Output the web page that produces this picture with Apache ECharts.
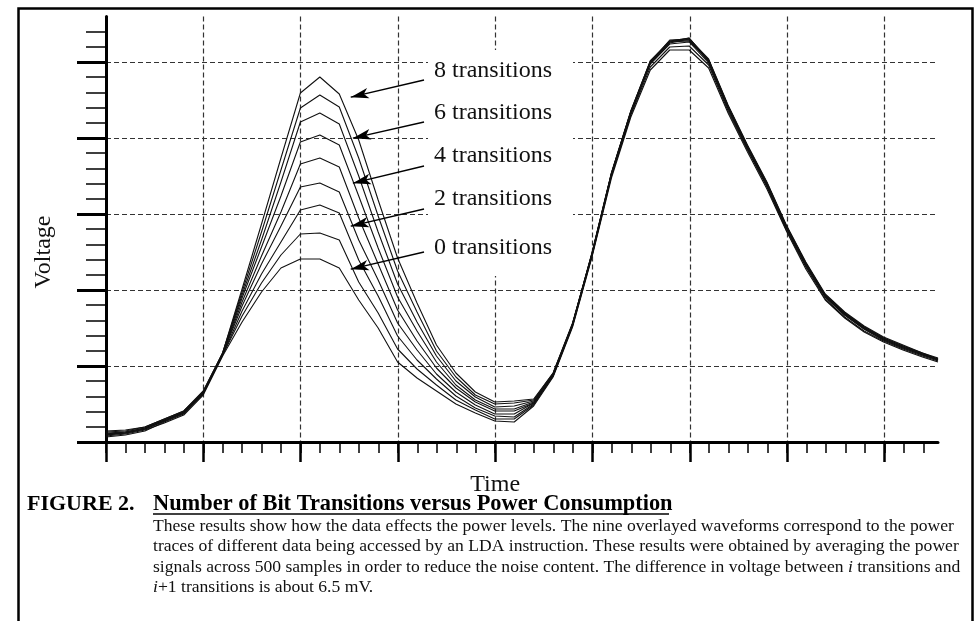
<!DOCTYPE html>
<html>
<head>
<meta charset="utf-8">
<title>Number of Bit Transitions versus Power Consumption</title>
<script src="https://cdn.jsdelivr.net/npm/echarts@6/dist/echarts.min.js"></script>
<style>
  html, body { margin: 0; padding: 0; background: #fff; }
  #bitTransCharts { width: 978px; height: 621px; }
</style>
</head>
<body>
<div id="bitTransCharts"></div>
<script>
  // time samples, in minor divisions of the time axis
  const timeSteps = [0,1,2,3,4,5,6,7,8,9,10,11,12,13,14,15,16,17,18,19,20,21,
    22,23,24,25,26,27,28,29,30,31,32,33,34,35,36,37,38,39,40,41,42,42.8];

  // averaged power traces (voltage, arbitrary units: 76 per major division)
  const trans0 = [6,8,12,19,27,47,86,120,150,174,183,183,174,142,114,80,64,51,38,29,21,20,36,65,
    115,185,264,325,372,392,392,374,329,290,253,211,173,142,124,110,100,92,85,80];
  const trans1 = [7,9,13,21,29,48,87,126,159,187,208,209,202,160,129,93,73,57,42,32,23,23,37,66,
    116,186,266,327,375,395,396,377,331,292,255,212,175,143,125,111,101,93,86,81];
  const trans2 = [5,7,11,20,28,49,87,131,168,200,232,237,229,182,146,106,82,63,46,34,26,25,38,66,
    117,187,267,329,378,398,400,379,333,293,256,214,176,145,127,113,102,94,87,82];
  const trans3 = [8,10,14,22,30,49,88,136,178,216,255,259,250,202,162,119,92,68,50,37,28,28,39,67,
    117,188,268,330,379,400,401,381,335,295,258,215,178,146,128,114,103,95,88,83];
  const trans4 = [9,10,14,22,30,50,88,140,186,230,278,284,275,224,178,132,101,74,54,40,31,31,39,67,
    118,187,267,329,380,399,403,380,334,294,257,214,177,145,127,113,102,94,87,82];
  const trans5 = [7,9,13,21,29,49,88,144,195,246,300,307,297,246,194,145,111,80,57,42,33,33,40,68,
    117,188,268,330,379,401,402,382,336,296,259,216,179,147,129,115,104,96,89,83];
  const trans6 = [10,11,15,23,31,50,89,147,202,260,320,329,318,266,210,158,120,86,61,45,35,36,41,68,
    118,189,269,331,381,400,404,381,335,295,258,215,178,146,128,114,103,95,88,82];
  const trans7 = [8,9,13,21,29,50,89,150,210,272,334,347,335,284,226,171,130,91,65,47,38,39,42,69,
    119,188,268,330,380,402,403,383,337,297,260,217,180,148,130,116,105,97,89,84];
  const trans8 = [11,12,15,23,31,51,89,153,218,284,349,365,348,302,242,184,139,97,69,50,40,41,43,69,
    118,189,269,331,381,401,404,382,336,296,259,216,179,147,129,115,104,96,88,83];

  const traceNames = ['0 transitions','1 transition','2 transitions','3 transitions','4 transitions',
    '5 transitions','6 transitions','7 transitions','8 transitions'];
  const traces = [trans0, trans1, trans2, trans3, trans4, trans5, trans6, trans7, trans8];

  // callouts: label text, arrow tail and arrow head (time, voltage)
  const calloutTexts = ['8 transitions','6 transitions','4 transitions','2 transitions','0 transitions'];
  const arrowTails = [[16.36,362],[16.36,320],[16.36,276],[16.36,233],[16.36,190]];
  const arrowHeads = [[12.59,344.8],[12.70,303.8],[12.70,258.8],[12.59,215.8],[12.59,172.8]];
  const calloutY = [71,113,156,199,248];

  const serif = '"Liberation Serif", "Times New Roman", serif';
  const gridDash = [5, 3];

  let myChart = echarts.init(document.getElementById('bitTransCharts'));

  let seriesList = traces.map(function (vals, i) {
    return {
      name: traceNames[i],
      type: 'line',
      xAxisIndex: 0,
      yAxisIndex: 0,
      showSymbol: false,
      symbol: 'none',
      silent: true,
      data: timeSteps.map(function (t, j) { return [t, vals[j]]; }),
      lineStyle: { color: '#111', width: 1.1 }
    };
  });

  seriesList[8].markLine = {
    silent: true,
    symbol: ['none', 'arrow'],
    label: { show: false },
    lineStyle: { color: '#000', width: 1.3, type: 'solid' },
    data: arrowTails.map(function (p, i) {
      return [
        { coord: p, symbol: 'none' },
        { coord: arrowHeads[i], symbol: 'arrow', symbolSize: [8, 18] }
      ];
    })
  };

  let graphics = [
    {
      type: 'rect', silent: true, z: 10,
      shape: { x: 18.5, y: 8.5, width: 954, height: 660 },
      style: { fill: 'none', stroke: '#000', lineWidth: 2.5 }
    },
    {
      // blank text frame behind the callout labels
      type: 'rect', silent: true, z: 10,
      shape: { x: 428, y: 50, width: 145, height: 226 },
      style: { fill: '#fff', stroke: null }
    }
  ];
  calloutTexts.forEach(function (txt, i) {
    graphics.push({
      type: 'text', x: 434, y: calloutY[i], silent: true, z: 11,
      style: { text: txt, font: '24px ' + serif, fill: '#111', verticalAlign: 'middle', align: 'left' }
    });
  });
  graphics.push(
    { type: 'text', x: 27, y: 504, silent: true, z: 11,
      style: { text: 'FIGURE 2.', font: 'bold 22px ' + serif, fill: '#000', verticalAlign: 'middle' } },
    { type: 'text', x: 153, y: 504, silent: true, z: 11,
      style: { text: 'Number of Bit Transitions versus Power Consumption', font: 'bold 22.4px ' + serif,
        fill: '#000', verticalAlign: 'middle' } },
    { type: 'line', silent: true, z: 11, shape: { x1: 153, y1: 514, x2: 669, y2: 514 },
      style: { stroke: '#000', lineWidth: 1.5 } }
  );
  let bodyLines = [
    'These results show how the data effects the power levels. The nine overlayed waveforms correspond to the power',
    'traces of different data being accessed by an LDA instruction. These results were obtained by averaging the power',
    'signals across 500 samples in order to reduce the noise content. The difference in voltage between {it|i} transitions and',
    '{it|i}+1 transitions is about 6.5 mV.'
  ];
  let bodyY = [526, 546, 567, 587];
  bodyLines.forEach(function (txt, i) {
    graphics.push({
      type: 'text', x: 153, y: bodyY[i], silent: true, z: 11,
      style: {
        text: txt, font: '17.6px ' + serif, fill: '#111', verticalAlign: 'middle',
        rich: { it: { fontStyle: 'italic', fontSize: 17.6, fontFamily: serif, fill: '#111' } }
      }
    });
  });

  let option = {
    animation: false,
    backgroundColor: '#fff',
    textStyle: { fontFamily: serif, color: '#000' },
    grid: [
      { left: 106, right: 40, top: 16.4, bottom: 179 },    // traces
      { left: 106, right: 93.6, top: 16.4, bottom: 179 },  // major time ticks, vertical grid
      { left: 106, right: 40, top: 62, bottom: 179 },      // major voltage ticks, horizontal grid
      { left: 106, right: 54.7, top: 31.6, bottom: 179 }   // minor ticks
    ],
    xAxis: [
      {
        gridIndex: 0, type: 'value', min: 0, max: 42.8,
        axisLine: { show: true, lineStyle: { color: '#000', width: 3 } },
        axisTick: { show: false }, axisLabel: { show: false }, splitLine: { show: false }
      },
      {
        gridIndex: 1, type: 'value', min: 0, max: 40, interval: 5,
        name: 'Time', nameLocation: 'middle', nameGap: 31,
        nameTextStyle: { fontSize: 24, fontFamily: serif, color: '#111' },
        axisLine: { show: false },
        axisTick: { show: true, length: 20, lineStyle: { color: '#000', width: 2.5 } },
        axisLabel: { show: false },
        splitLine: { show: true, lineStyle: { color: '#333', width: 1.2, type: gridDash } }
      },
      { gridIndex: 2, type: 'value', show: false, min: 0, max: 1 },
      {
        gridIndex: 3, type: 'value', min: 0, max: 42, interval: 1,
        axisLine: { show: false },
        axisTick: { show: true, length: 11, lineStyle: { color: '#000', width: 1.5 } },
        axisLabel: { show: false }, splitLine: { show: false }
      }
    ],
    yAxis: [
      {
        gridIndex: 0, type: 'value', min: 0, max: 425.6,
        axisLine: { show: true, lineStyle: { color: '#000', width: 3 } },
        axisTick: { show: false }, axisLabel: { show: false }, splitLine: { show: false }
      },
      { gridIndex: 1, type: 'value', show: false, min: 0, max: 1 },
      {
        gridIndex: 2, type: 'value', min: 0, max: 380, interval: 76,
        name: 'Voltage', nameLocation: 'middle', nameGap: 50, nameRotate: 90,
        nameTextStyle: { fontSize: 24, fontFamily: serif, color: '#111' },
        axisLine: { show: false },
        axisTick: { show: true, length: 29, lineStyle: { color: '#000', width: 3 } },
        axisLabel: { show: false },
        splitLine: { show: true, lineStyle: { color: '#333', width: 1.2, type: gridDash } }
      },
      {
        gridIndex: 3, type: 'value', min: 0, max: 410.4, interval: 15.2,
        axisLine: { show: false },
        axisTick: { show: true, length: 20, lineStyle: { color: '#000', width: 1.5 } },
        axisLabel: { show: false }, splitLine: { show: false }
      }
    ],
    series: seriesList,
    graphic: graphics
  };
  myChart.setOption(option, true);
</script>
</body>
</html>
